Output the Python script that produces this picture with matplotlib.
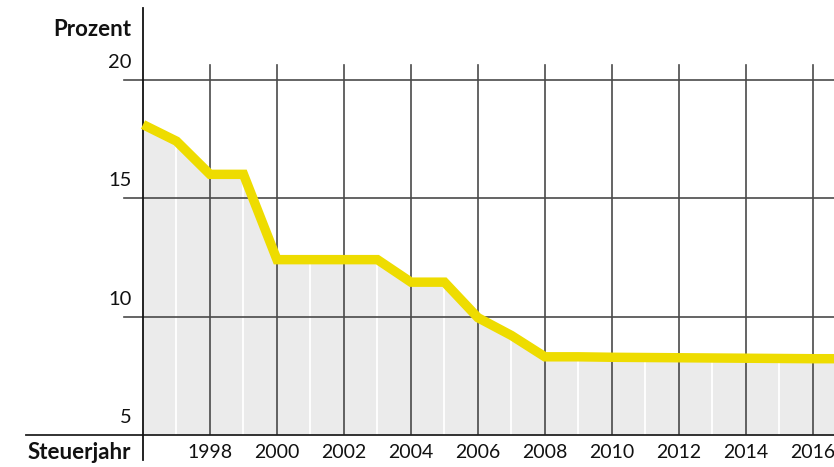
import matplotlib.pyplot as plt

# Steuersatz je Steuerjahr
years = list(range(1996, 2017))
rate = [18.1, 17.4, 16.0, 16.0, 12.4, 12.4, 12.4, 12.4, 11.45, 11.45,
        9.95, 9.2, 8.3, 8.3, 8.28, 8.27, 8.26, 8.25, 8.24, 8.23, 8.22]
y_ticks = [5, 10, 15, 20]
x_ticks = list(range(1998, 2017, 2))

plt.rcParams['font.family'] = ['Lato', 'DejaVu Sans']

fig = plt.figure(figsize=(8.34, 4.67), dpi=100)
ax = fig.add_axes([143 / 834, 32 / 467, 1 - 143 / 834, 427 / 467])
x_end = 2016.63
ax.set_xlim(1996, x_end)
ax.set_ylim(5, 23.02)
ax.axis('off')

grid_c = '#4a4a4a'

# Fläche unter der Kurve
ax.fill_between(years + [x_end], rate + [rate[-1]], 5, color='#ebebeb', lw=0, zorder=1)
# weisse Linien in ungeraden Jahren innerhalb der Fläche
for yr, v in zip(years, rate):
    if yr % 2 == 1:
        ax.plot([yr, yr], [5, v], color='white', lw=1.3, zorder=2)

# vertikale Gitterlinien
for yr in x_ticks:
    ax.plot([yr, yr], [5, 20.6], color=grid_c, lw=1.2, zorder=3)
    ax.text(yr, 4.25, str(yr), ha='center', va='center', fontsize=14, color='#111')

# horizontale Gitterlinien
for v in y_ticks[1:]:
    ax.plot([1995.43, x_end], [v, v], color=grid_c, lw=1.2, zorder=3, clip_on=False)
for v in y_ticks:
    ax.text(1995.65, v + 0.72, str(v), ha='right', va='center', fontsize=14.5, color='#111')

# Achsen
ax.plot([1992.5, x_end], [5, 5], color='#222', lw=1.3, zorder=4, clip_on=False)
ax.plot([1996, 1996], [3.95, 23.02], color='#111', lw=1.3, zorder=4, clip_on=False)

# Kurve
ax.plot(years + [x_end], rate + [rate[-1]], color='#eedc00', lw=6.8,
        solid_joinstyle='miter', solid_capstyle='butt', zorder=5, clip_on=False)

ax.text(1995.65, 22.1, 'Prozent', ha='right', va='center', fontsize=16,
        fontweight='bold', color='#111')
ax.text(1995.65, 4.28, 'Steuerjahr', ha='right', va='center', fontsize=16,
        fontweight='bold', color='#111')

plt.savefig('out.png', dpi=100)
